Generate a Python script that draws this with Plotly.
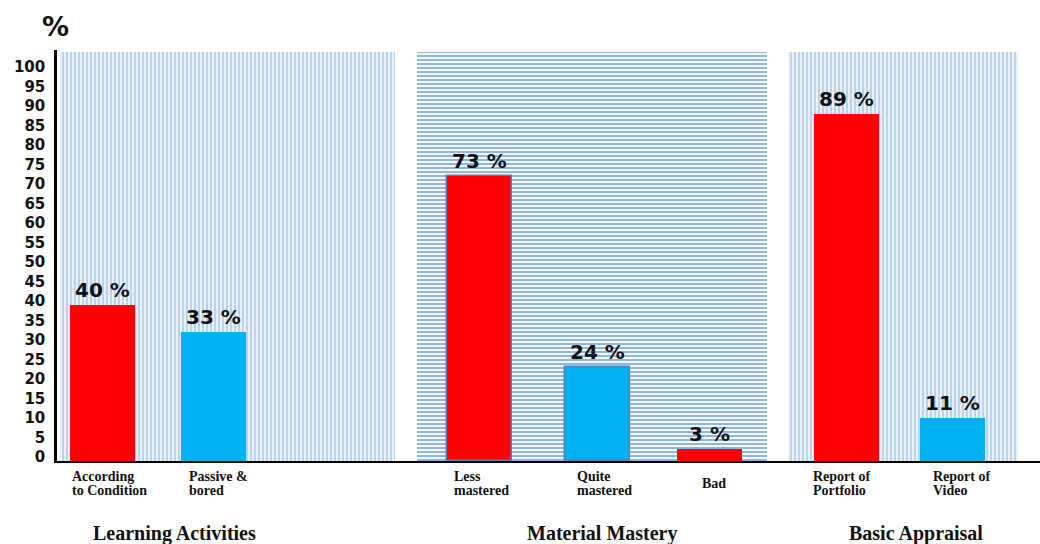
import plotly.graph_objects as go

# ---- data ----
categories = ["According<br>to Condition", "Passive &<br>bored",
              "Less<br>mastered", "Quite<br>mastered", "Bad",
              "Report of<br>Portfolio", "Report of<br>Video"]
values = [40, 33, 73, 24, 3, 89, 11]
bar_colors = ["#ff0000", "#00b0f0", "#ff0000", "#00b0f0", "#ff0000", "#ff0000", "#00b0f0"]
groups = ["Learning Activities", "Material Mastery", "Basic Appraisal"]
y_ticks = [0, 5, 10, 15, 20, 25, 30, 35, 40, 45, 50, 55, 60, 65, 70, 75, 80, 85, 90, 95, 100]

# ---- layout (x axis runs in screen-pixel units) ----
W, H = 1040, 544
PLOT_LEFT = 57
PLOT_TOP, PLOT_BOTTOM = 50, 461
Y_MAX = 105.4

bar_x = [102.5, 213.5, 479.5, 597.5, 709.5, 846, 952]
bar_w = 65
outlined = [False, False, True, True, False, False, False]
label_x = [70, 187, 452, 575, 700, 811, 931]
group_x = [174, 602, 916]

# background panels: (left, right, stripe shape, fg, bg, solidity)
panels = [
    (60, 395, "|", "#a6c8ea", "#e8f1fa", 0.35),
    (417, 767, "-", "#74a5d9", "#f7fafd", 0.4),
    (788, 1018, "|", "#a6c8ea", "#e8f1fa", 0.35),
]


def py(px):
    """Paper y coordinate for a screen row."""
    return (PLOT_BOTTOM - px) / (PLOT_BOTTOM - PLOT_TOP)


def px_(col):
    """Paper x coordinate for a screen column."""
    return (col - PLOT_LEFT) / (W - PLOT_LEFT)


fig = go.Figure()

for left, right, shape, fg, bg, sol in panels:
    fig.add_trace(go.Bar(
        x=[(left + right) / 2], y=[105], width=[right - left],
        marker=dict(color=bg, line=dict(width=0),
                    pattern=dict(shape=shape, fgcolor=fg, bgcolor=bg,
                                 size=4, solidity=sol, fillmode="replace")),
        hoverinfo="skip", showlegend=False,
    ))

for i, v in enumerate(values):
    fig.add_trace(go.Bar(
        x=[bar_x[i]], y=[v], width=[bar_w],
        marker=dict(color=bar_colors[i],
                    line=dict(color="#4f81bd", width=1.5 if outlined[i] else 0)),
        showlegend=False, hoverinfo="skip",
    ))

annotations = []
# value labels
for i, v in enumerate(values):
    annotations.append(dict(
        x=bar_x[i], y=v, xref="x", yref="y", text=f"{v} %",
        showarrow=False, yanchor="bottom", xanchor="center", yshift=1,
        font=dict(family="DejaVu Sans", size=20, weight="bold", color="#111111"),
    ))

# category labels
for i, cat in enumerate(categories):
    lines = cat.split("<br>")
    rows = [476, 490] if len(lines) == 2 else [483]
    for line, row in zip(lines, rows):
        annotations.append(dict(
            x=label_x[i], y=py(row), xref="x", yref="paper", text=line,
            showarrow=False, xanchor="left", yanchor="middle",
            font=dict(family="Liberation Serif", size=14, weight="bold", color="#111111"),
        ))

# group titles
for gx, g in zip(group_x, groups):
    annotations.append(dict(
        x=gx, y=py(533), xref="x", yref="paper", text=g, showarrow=False,
        xanchor="center", yanchor="middle",
        font=dict(family="Liberation Serif", size=20, weight="bold", color="#111111"),
    ))

# axis unit
annotations.append(dict(
    x=px_(55), y=py(27), xref="paper", yref="paper", text="%", showarrow=False,
    xanchor="center", yanchor="middle",
    font=dict(family="DejaVu Sans", size=27, weight="bold", color="#111111"),
))

fig.update_layout(
    width=W, height=H,
    margin=dict(l=PLOT_LEFT, r=0, t=PLOT_TOP, b=H - PLOT_BOTTOM),
    paper_bgcolor="white", plot_bgcolor="white",
    barmode="overlay", bargap=0,
    annotations=annotations,
    xaxis=dict(range=[PLOT_LEFT, W], showticklabels=False, showgrid=False, zeroline=False,
               showline=True, linecolor="black", linewidth=2, ticks="", fixedrange=True),
    yaxis=dict(range=[0, Y_MAX], tickvals=y_ticks, ticktext=[str(t) for t in y_ticks],
               showgrid=False, zeroline=False, showline=True, linecolor="black",
               linewidth=2.5, ticks="", ticklabelstandoff=6, ticklabelshift=-4,
               tickfont=dict(family="DejaVu Sans", size=15, weight="bold", color="#111111"),
               fixedrange=True),
)

fig.write_html("out.html")
